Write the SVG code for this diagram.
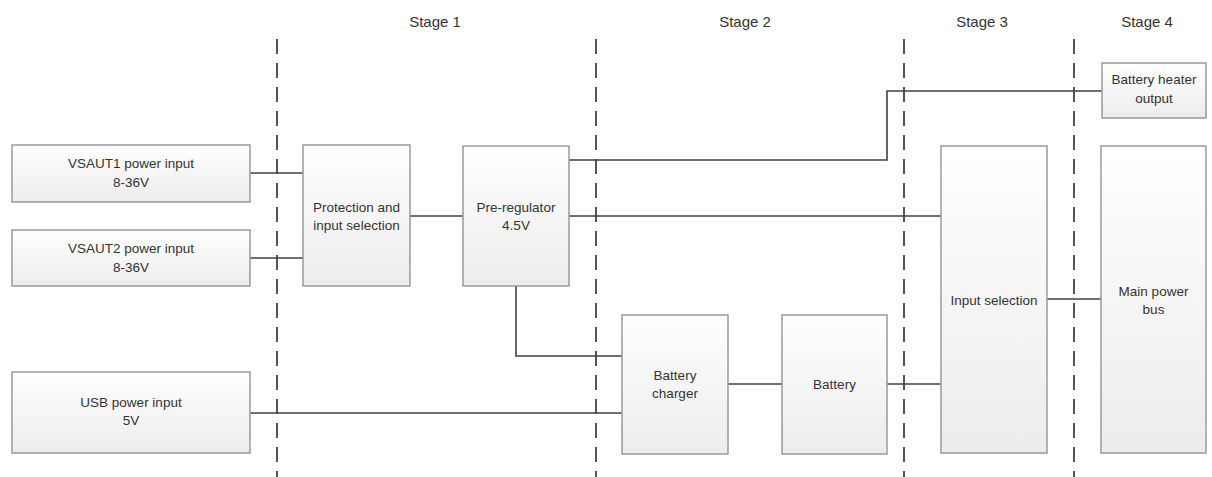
<svg xmlns="http://www.w3.org/2000/svg" width="1212" height="477" viewBox="0 0 1212 477">
<defs>
<linearGradient id="g" x1="0" y1="0" x2="0" y2="1">
<stop offset="0" stop-color="#ffffff"/>
<stop offset="1" stop-color="#ececec"/>
</linearGradient>
<style>
.box{fill:url(#g);stroke:#9a9a9a;stroke-width:1.5}
.t{font-family:"Liberation Sans",Arial,sans-serif;font-size:13.5px;fill:#333;text-anchor:middle}
.st{font-family:"Liberation Sans",Arial,sans-serif;font-size:15px;fill:#333;text-anchor:middle}
.c{fill:none;stroke:#404040;stroke-width:1.6}
.d{stroke:#555;stroke-width:2;stroke-dasharray:15 9}
</style>
</defs>
<rect width="1212" height="477" fill="#fff"/>
<g id="stages">
<text class="st" x="435" y="27">Stage 1</text>
<text class="st" x="745" y="27">Stage 2</text>
<text class="st" x="982" y="27">Stage 3</text>
<text class="st" x="1147" y="27">Stage 4</text>
<line class="d" x1="277" y1="39" x2="277" y2="477"/>
<line class="d" x1="596" y1="39" x2="596" y2="477"/>
<line class="d" x1="904" y1="39" x2="904" y2="477"/>
<line class="d" x1="1074" y1="39" x2="1074" y2="477"/>
</g>
<g id="connectors">
<polyline class="c" points="250,173 303,173"/>
<polyline class="c" points="250,258 303,258"/>
<polyline class="c" points="410,216 463,216"/>
<polyline class="c" points="569,160 887,160 887,91 1102,91"/>
<polyline class="c" points="569,216 941,216"/>
<polyline class="c" points="516,286 516,356 622,356"/>
<polyline class="c" points="250,413 622,413"/>
<polyline class="c" points="728,384 782,384"/>
<polyline class="c" points="887,384 941,384"/>
<polyline class="c" points="1047,299 1101,299"/>
</g>
<g id="vsaut1">
<rect class="box" x="12" y="145" width="238" height="57"/>
<text class="t" x="131" y="168">VSAUT1 power input</text>
<text class="t" x="131" y="187">8-36V</text>
</g>
<g id="vsaut2">
<rect class="box" x="12" y="230" width="238" height="56"/>
<text class="t" x="131" y="253">VSAUT2 power input</text>
<text class="t" x="131" y="272">8-36V</text>
</g>
<g id="usb">
<rect class="box" x="12" y="372" width="238" height="81"/>
<text class="t" x="131" y="407">USB power input</text>
<text class="t" x="131" y="425">5V</text>
</g>
<g id="protection">
<rect class="box" x="303" y="145" width="107" height="141"/>
<text class="t" x="356.5" y="212">Protection and</text>
<text class="t" x="356.5" y="230">input selection</text>
</g>
<g id="preregulator">
<rect class="box" x="463" y="146" width="106" height="140"/>
<text class="t" x="516" y="212">Pre-regulator</text>
<text class="t" x="516" y="230">4.5V</text>
</g>
<g id="charger">
<rect class="box" x="622" y="315" width="106" height="139"/>
<text class="t" x="675" y="380">Battery</text>
<text class="t" x="675" y="398">charger</text>
</g>
<g id="battery">
<rect class="box" x="782" y="315" width="105" height="139"/>
<text class="t" x="834.5" y="389">Battery</text>
</g>
<g id="inputsel">
<rect class="box" x="941" y="146" width="106" height="307"/>
<text class="t" x="994" y="305">Input selection</text>
</g>
<g id="heater">
<rect class="box" x="1102" y="63" width="104" height="55"/>
<text class="t" x="1154" y="84">Battery heater</text>
<text class="t" x="1154" y="103">output</text>
</g>
<g id="mainbus">
<rect class="box" x="1101" y="146" width="105" height="307"/>
<text class="t" x="1153.5" y="296">Main power</text>
<text class="t" x="1153.5" y="314">bus</text>
</g>
</svg>
